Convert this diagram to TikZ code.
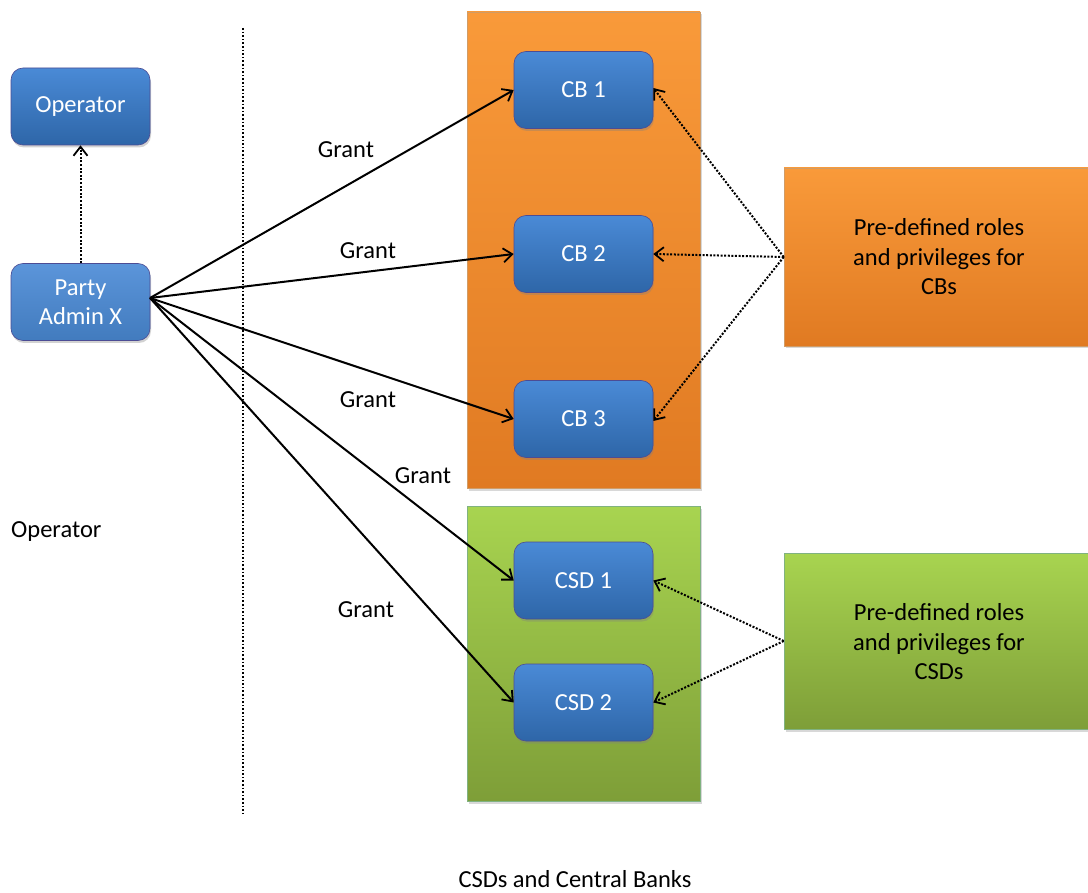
\documentclass[tikz,border=0pt]{standalone}
\usepackage{fontspec}
\setmainfont{Carlito}
\usetikzlibrary{arrows.meta,shadows}
\definecolor{blueTop}{HTML}{4A8AD6}
\definecolor{blueBot}{HTML}{2E66A8}
\definecolor{partyTop}{HTML}{5B95DA}
\definecolor{partyBot}{HTML}{427BBE}
\definecolor{orTop}{HTML}{F99A3A}
\definecolor{orBot}{HTML}{E07A22}
\definecolor{grTop}{HTML}{A8D450}
\definecolor{grBot}{HTML}{7E9E38}
\begin{document}
\begin{tikzpicture}[x=1pt,y=-1pt,
  font=\fontsize{24.5}{29.5}\selectfont,
  bluebox/.style={rounded corners=12pt, draw=blue!40!black!70, line width=0.6pt,
    top color=blueTop, bottom color=blueBot, text=white, minimum width=139pt, minimum height=77pt,
    align=center, inner sep=0pt,
    drop shadow={opacity=0.35, shadow xshift=1pt, shadow yshift=-2.5pt}},
  orangebox/.style={draw=orange!70!black!60, line width=0.5pt, top color=orTop, bottom color=orBot,
    drop shadow={opacity=0.3, shadow xshift=1.5pt, shadow yshift=-2.5pt}},
  greenbox/.style={draw=green!40!black!50, line width=0.5pt, top color=grTop, bottom color=grBot,
    drop shadow={opacity=0.3, shadow xshift=1.5pt, shadow yshift=-2.5pt}},
  grant/.style={-{Straight Barb[length=9pt,width=14pt,line width=1.8pt]}, line width=2pt},
  dotarrow/.style={-{Straight Barb[length=9pt,width=14pt,line width=1.8pt]}, line width=2pt,
    dash pattern=on 2pt off 1.6pt},
  lbl/.style={inner sep=0pt}
]
\useasboundingbox (0,0) rectangle (1088,893);
\fill[white] (0,0) rectangle (1088,893);

% containers
\node[orangebox, minimum width=233pt, minimum height=476pt, inner sep=0pt] (cbarea) at (583.5,250) {};
\node[greenbox, minimum width=233pt, minimum height=295pt, inner sep=0pt] (csdarea) at (583.5,653.5) {};
\node[orangebox, minimum width=310pt, minimum height=178pt, inner sep=0pt, align=center] (cbroles) at (939,257) {};
\node[greenbox, minimum width=310pt, minimum height=176pt, inner sep=0pt, align=center] (csdroles) at (939,641) {};
\node[align=center, lbl] (cbrolestxt) at (939,257) {Pre-defined roles\\and privileges for\\CBs};
\node[align=center, lbl] (csdrolestxt) at (939,642) {Pre-defined roles\\and privileges for\\CSDs};

% left boxes
\node[bluebox] (op) at (80.5,106.5) {Operator};
\node[bluebox, top color=partyTop, bottom color=partyBot] (party) at (80.5,302) {Party\\Admin X};

% CB and CSD boxes
\node[bluebox] (cb1) at (583.5,90) {CB 1};
\node[bluebox] (cb2) at (583.5,254) {CB 2};
\node[bluebox] (cb3) at (583.5,419) {CB 3};
\node[bluebox] (csd1) at (583.5,580.5) {CSD 1};
\node[bluebox] (csd2) at (583.5,702.5) {CSD 2};

% divider
\coordinate (divtop) at (243,28);
\coordinate (divbot) at (243,815);
\draw[line width=1.6pt, dash pattern=on 1.6pt off 2pt] (divtop) -- (divbot);

% labels
\node[anchor=west, lbl] (oplabel) at (11,532) {Operator};
\node[lbl] (bottomlabel) at (575,879) {CSDs and Central Banks};

% party to operator
\draw[dotarrow] (party.north) -- (op.south);

% grants
\coordinate (ps) at (150,298);
\draw[grant] (ps) -- (cb1.west);
\draw[grant] (ps) -- (cb2.west);
\draw[grant] (ps) -- (cb3.west);
\draw[grant] (ps) -- (csd1.west);
\draw[grant] (ps) -- (csd2.west);
\node[lbl] (g1) at (346,150) {Grant};
\node[lbl] (g2) at (368,251) {Grant};
\node[lbl] (g3) at (368,400) {Grant};
\node[lbl] (g4) at (423,476) {Grant};
\node[lbl] (g5) at (366,610) {Grant};

% role arrows
\draw[dotarrow] (cbroles.west) -- ([yshift=2pt]cb1.east);
\draw[dotarrow] (cbroles.west) -- (cb2.east);
\draw[dotarrow] (cbroles.west) -- ([yshift=-2pt]cb3.east);
\draw[dotarrow] (csdroles.west) -- (csd1.east);
\draw[dotarrow] (csdroles.west) -- (csd2.east);
\end{tikzpicture}
\end{document}
